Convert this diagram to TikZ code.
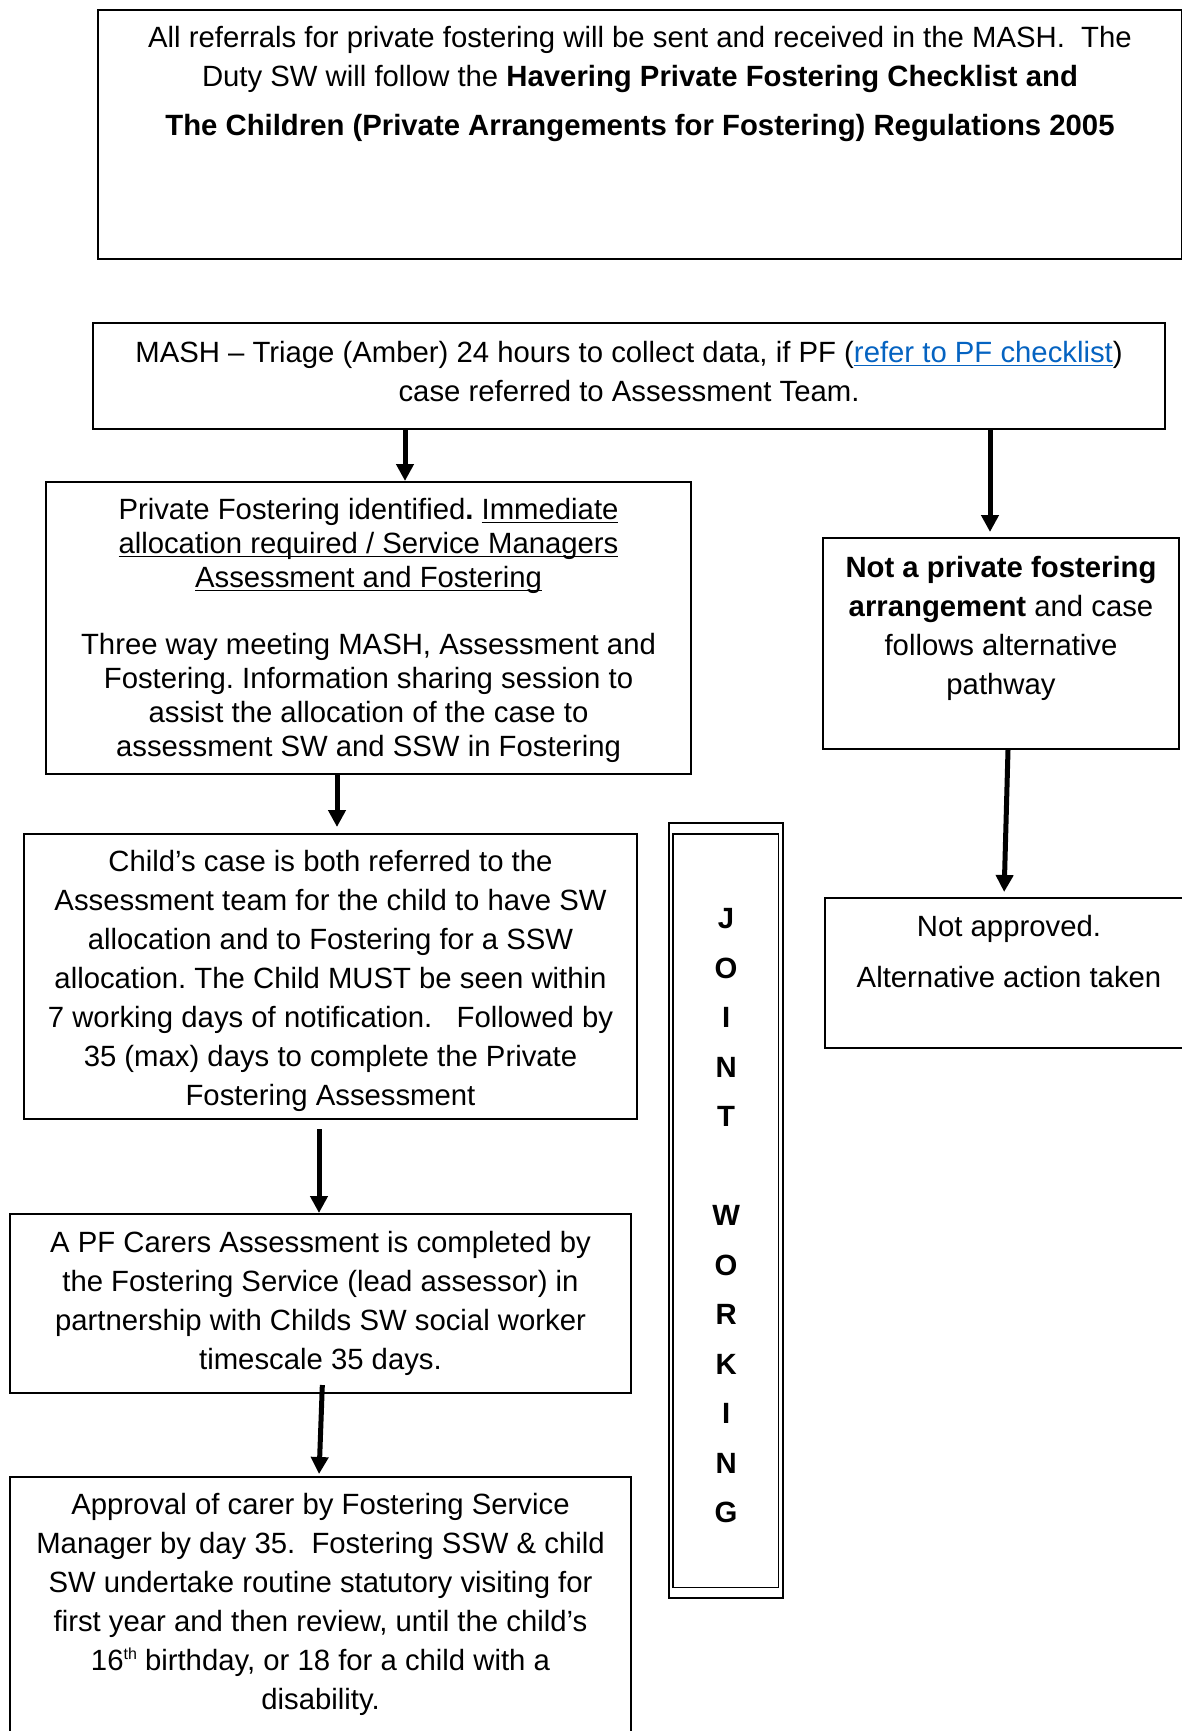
\documentclass[tikz,border=0pt]{standalone}
\usepackage{fontspec}
\setmainfont{Liberation Sans}
\usepackage{xcolor}
\usetikzlibrary{arrows.meta}
\definecolor{linkblue}{HTML}{0563C1}
\newcommand{\pfuline}[1]{\leavevmode\setbox0\hbox{#1}\rlap{\rule[-2.1pt]{\wd0}{0.9pt}}\box0}
\frenchspacing

\begin{document}
\begin{tikzpicture}[x=0.5pt, y=-0.5pt,
    pfbox/.style={draw, line width=1pt, inner sep=0pt, anchor=north west,
        font=\fontsize{14.65pt}{19.5pt}\selectfont},
    flow/.style={line width=2.5pt, -{Triangle[width=8.5pt, length=8.5pt]}}]
    \useasboundingbox (0,0) rectangle (1182,1731);

    % Ô giới thiệu
    \node[pfbox] (intro) at (97,9) {\parbox[c][124.5pt][t]{542pt}{\centering\vspace*{8.35pt}
        All referrals for private fostering will be sent and received in the MASH.\ \ The\\[-0.25pt]
        Duty SW will follow the \textbf{Havering Private Fostering Checklist and}\\[4.9pt]
        \textbf{The Children (Private Arrangements for Fostering) Regulations 2005}}};

    % Ô MASH
    \node[pfbox] (mash) at (92,322) {\parbox[c][53pt][t]{536pt}{\centering\vspace*{9pt}
        MASH – Triage (Amber) 24 hours to collect data, if PF (\textcolor{linkblue}{\pfuline{refer to PF checklist}})\\
        case referred to Assessment Team.}};

    % Nhánh trái
    \node[pfbox, font=\fontsize{14.65pt}{17pt}\selectfont] (pf) at (45,481) {\parbox[c][146pt][t]{322.5pt}{\centering\vspace*{8pt}
        Private Fostering identified\textbf{.} \pfuline{Immediate}\\
        \pfuline{allocation required / Service Managers}\\
        \pfuline{Assessment and Fostering}\\[16.5pt]
        Three way meeting MASH, Assessment and\\
        Fostering. Information sharing session to\\
        assist the allocation of the case to\\
        assessment SW and SSW in Fostering}};
    \node[pfbox] (child) at (23,833) {\parbox[c][142.5pt][t]{306.5pt}{\centering\vspace*{8pt}
        Child’s case is both referred to the\\
        Assessment team for the child to have SW\\
        allocation and to Fostering for a SSW\\
        allocation. The Child MUST be seen within\\
        7 working days of notification.\ \ \ Followed by\\
        35 (max) days to complete the Private\\
        Fostering Assessment}};
    \node[pfbox] (carers) at (9,1213) {\parbox[c][89.5pt][t]{310.5pt}{\centering\vspace*{8.75pt}
        A PF Carers Assessment is completed by\\
        the Fostering Service (lead assessor) in\\
        partnership with Childs SW social worker\\
        timescale 35 days.}};
    \node[pfbox] (approval) at (9,1476) {\parbox[c][145pt][t]{310.5pt}{\centering\vspace*{8pt}
        Approval of carer by Fostering Service\\
        Manager by day 35.\ \ Fostering SSW \& child\\
        SW undertake routine statutory visiting for\\
        first year and then review, until the child’s\\
        16\raisebox{5.5pt}{\fontsize{8pt}{8pt}\selectfont th} birthday, or 18 for a child with a\\
        disability.}};

    % Nhánh phải
    \node[pfbox] (notpf) at (822,537) {\parbox[c][105.5pt][t]{178pt}{\centering\vspace*{9.1pt}
        \textbf{Not a private fostering}\\
        \textbf{arrangement} and case\\
        follows alternative\\
        pathway}};
    \node[pfbox] (notapp) at (824,897) {\parbox[c][75pt][t]{184pt}{\centering\vspace*{8.5pt}
        Not approved.\\[6.3pt]
        Alternative action taken}};

    % Khung làm việc chung
    \node[pfbox, line width=1.1pt] (joint) at (668,822) {\parbox[c][387.5pt][t]{57pt}{\centering\bfseries
        \fontsize{14.65pt}{24.75pt}\selectfont\vspace*{42.75pt}
        J\\O\\I\\N\\T\\[24.75pt]W\\O\\R\\K\\I\\N\\G}};
    \draw[line width=0.6pt] ([shift={(2.5pt,-6pt)}]joint.north west) rectangle ([shift={(-3pt,6pt)}]joint.south east);

    % Mũi tên
    \draw[flow] (mash.south -| 405,0) -- (pf.north -| 405,0);
    \draw[flow, shorten >=2.5pt] (mash.south -| 990,0) -- (notpf.north -| 990,0);
    \draw[flow, shorten >=2.5pt] (notpf.south -| 1008,0) -- (notapp.north -| 1004,0);
    \draw[flow, shorten >=3pt] (pf.south -| 337,0) -- (child.north -| 337,0);
    \draw[flow, shorten <=4.5pt] (child.south -| 319,0) -- (carers.north -| 319,0);
    \draw[flow, shorten <=-4.5pt, shorten >=1pt] (carers.south -| 322,0) -- (approval.north -| 319,0);
\end{tikzpicture}
\end{document}
